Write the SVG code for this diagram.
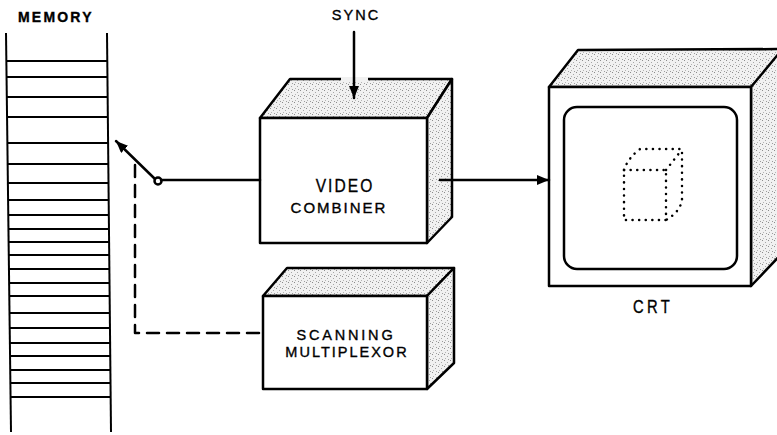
<svg xmlns="http://www.w3.org/2000/svg" width="777" height="435" viewBox="0 0 777 435">
  <defs>
    <pattern id="stipple" width="6" height="6" patternUnits="userSpaceOnUse">
      <rect width="6" height="6" fill="#f1f1f1"/>
      <rect x="0" y="0" width="1" height="1" fill="#8c8c8c"/>
      <rect x="3" y="2" width="1" height="1" fill="#a6a6a6"/>
      <rect x="1" y="4" width="1" height="1" fill="#b4b4b4"/>
      <rect x="4" y="5" width="1" height="1" fill="#9c9c9c"/>
    </pattern>
    <marker id="arrow" viewBox="0 0 12 10" refX="12" refY="5" markerWidth="12" markerHeight="10" markerUnits="userSpaceOnUse" orient="auto">
      <path d="M0,0 L12,5 L0,10 z" fill="#000"/>
    </marker>
  </defs>
  <style>
    .ln { stroke: #000; stroke-width: 2.5; fill: none; stroke-linejoin: round; stroke-linecap: round; }
    .face { fill: #fff; stroke: #000; stroke-width: 2.5; stroke-linejoin: round; }
    .shade { fill: url(#stipple); stroke: #000; stroke-width: 2.5; stroke-linejoin: round; }
    .mem { stroke: #000; stroke-width: 2; }
    .lbl { font-family: "Liberation Sans", Arial, sans-serif; fill: #000; stroke: #000; stroke-width: 0.35; }
  </style>

  <!-- Memory stack -->
  <g id="memory">
    <text class="lbl" x="18" y="22" font-size="14" font-weight="bold" letter-spacing="2.2">MEMORY</text>
    <line class="mem" x1="6" y1="33" x2="11" y2="432"/>
    <line class="mem" x1="107" y1="33" x2="111" y2="432"/>
    <g class="mem">
      <line x1="7" y1="61" x2="108" y2="61"/>
      <line x1="7" y1="77" x2="108" y2="77"/>
      <line x1="7" y1="97" x2="108" y2="97"/>
      <line x1="7" y1="117" x2="108" y2="117"/>
      <line x1="8" y1="143" x2="109" y2="143"/>
      <line x1="8" y1="164" x2="109" y2="164"/>
      <line x1="8" y1="183" x2="109" y2="183"/>
      <line x1="8" y1="200" x2="109" y2="200"/>
      <line x1="8" y1="215" x2="109" y2="215"/>
      <line x1="9" y1="229" x2="109" y2="229"/>
      <line x1="9" y1="242" x2="109" y2="242"/>
      <line x1="9" y1="255" x2="110" y2="255"/>
      <line x1="9" y1="269" x2="110" y2="269"/>
      <line x1="9" y1="283" x2="110" y2="283"/>
      <line x1="9" y1="296" x2="110" y2="296"/>
      <line x1="10" y1="313" x2="110" y2="313"/>
      <line x1="10" y1="328" x2="110" y2="328"/>
      <line x1="10" y1="343" x2="110" y2="343"/>
      <line x1="10" y1="356" x2="110" y2="356"/>
      <line x1="10" y1="370" x2="110" y2="370"/>
      <line x1="10" y1="383" x2="111" y2="383"/>
      <line x1="10" y1="397" x2="111" y2="397"/>
    </g>
  </g>

  <!-- Video combiner box -->
  <g id="video-combiner">
    <polygon class="shade" points="260,118 290,79 452,79 427,118"/>
    <polygon class="shade" points="427,118 452,79 452,217 427,243"/>
    <rect class="face" x="260" y="118" width="167" height="125"/>
    <text class="lbl" transform="translate(345 192) scale(0.82 1)" font-size="19" text-anchor="middle" letter-spacing="2.5">VIDEO</text>
    <text class="lbl" x="339" y="213" font-size="15" text-anchor="middle" letter-spacing="2">COMBINER</text>
  </g>

  <!-- Scanning multiplexor box -->
  <g id="scanning-multiplexor">
    <polygon class="shade" points="263,296 287,268 454,268 427,296"/>
    <polygon class="shade" points="427,296 454,268 454,363 427,389"/>
    <rect class="face" x="263" y="296" width="164" height="93"/>
    <text class="lbl" x="346" y="340" font-size="14.5" text-anchor="middle" letter-spacing="2.8">SCANNING</text>
    <text class="lbl" x="347" y="357" font-size="14.5" text-anchor="middle" letter-spacing="2">MULTIPLEXOR</text>
  </g>

  <!-- CRT monitor -->
  <g id="crt">
    <polygon class="shade" points="549,87 578,50 790,49 751,87"/>
    <polygon class="shade" points="751,87 790,40 790,245 751,286"/>
    <rect class="face" x="549" y="87" width="202" height="199"/>
    <rect class="ln" x="564" y="107" width="173" height="162" rx="13" ry="13"/>
    <!-- dotted wireframe cube drawn on the screen -->
    <g class="ln" stroke-width="2.6" stroke-dasharray="0.1 6.5" stroke-linecap="round">
      <rect x="624" y="170" width="42" height="50" fill="none"/>
      <path d="M624,170 Q628,158 640,149 L682,149 L682,200 Q680,212 666,220" fill="none"/>
      <path d="M666,170 L680,152" fill="none"/>
    </g>
    <text class="lbl" transform="translate(653 313) scale(0.82 1)" font-size="18" text-anchor="middle" letter-spacing="4">CRT</text>
  </g>

  <!-- Sync input label -->
  <g id="sync">
    <text class="lbl" x="356" y="20" font-size="14.5" text-anchor="middle" letter-spacing="2">SYNC</text>
  </g>

  <!-- Connectors -->
  <g id="connectors">
    <!-- sync into video combiner -->
    <line x1="341" y1="79" x2="368" y2="79" stroke="#f1f1f1" stroke-width="4"/>
    <line class="ln" x1="354" y1="32" x2="354" y2="98" marker-end="url(#arrow)"/>
    <!-- switch arm selecting a memory word -->
    <line class="ln" x1="155" y1="179" x2="116" y2="141" marker-end="url(#arrow)"/>
    <circle cx="158" cy="181" r="3.5" fill="#fff" stroke="#000" stroke-width="2.5"/>
    <line class="ln" x1="161" y1="180" x2="260" y2="180"/>
    <!-- scanning control (dashed) -->
    <path class="ln" d="M135,165 L135,333 L262,333" stroke-dasharray="12 8" stroke-linecap="butt"/>
    <!-- video out to CRT -->
    <line class="ln" x1="440" y1="180" x2="549" y2="180" marker-end="url(#arrow)"/>
  </g>
</svg>
